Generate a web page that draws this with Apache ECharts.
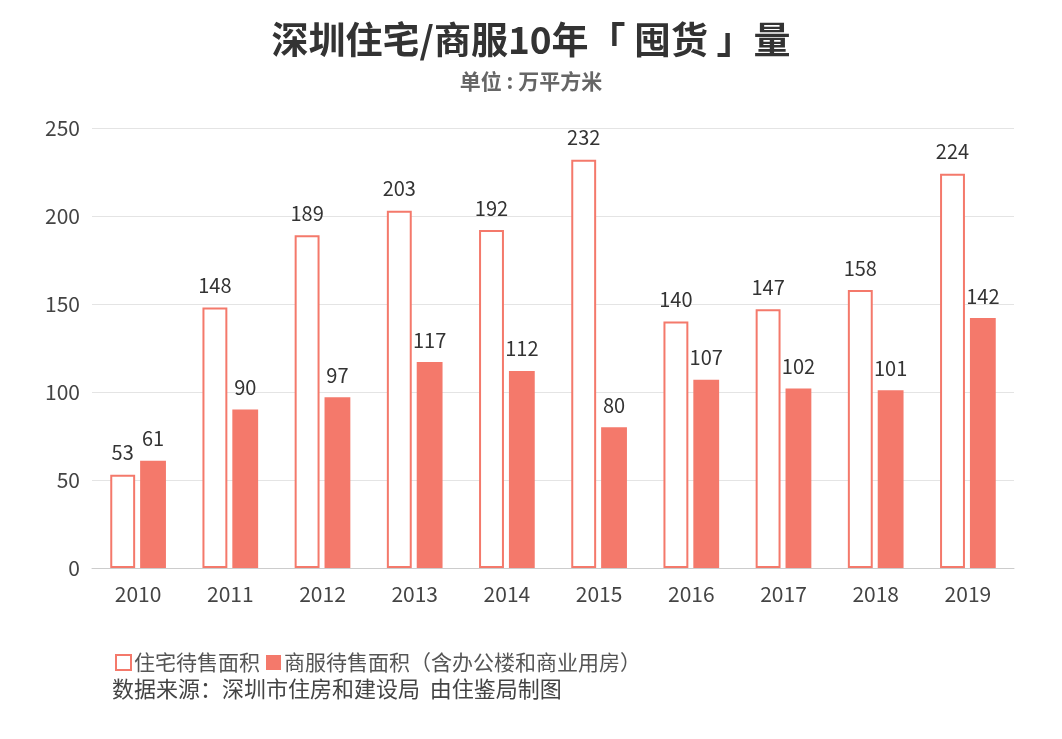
<!DOCTYPE html>
<html><head><meta charset="utf-8">
<script src="https://cdn.jsdelivr.net/npm/echarts@6/dist/echarts.min.js"></script>
<style>html,body{margin:0;padding:0;background:#fff}#c{width:1062px;height:739px}</style>
</head><body><div id="c"></div>
<script>
const years = ['2010','2011','2012','2013','2014','2015','2016','2017','2018','2019'];
const residential = [53,148,189,203,192,232,140,147,158,224];
const commercial = [61,90,97,117,112,80,107,102,101,142];
const seriesNames = ['住宅待售面积','商服待售面积（含办公楼和商业用房）'];
const yTicks = [0,50,100,150,200,250];
const red = '#F4796B';
const font = '"Noto Sans CJK SC", "Noto Sans", sans-serif';
const chart = echarts.init(document.getElementById('c'));
chart.setOption({
  backgroundColor:'#fff',
  animation:false,
  title:[
    {text:'深圳住宅/商服10年「 囤货 」量',left:'center',top:16,textStyle:{fontSize:37,fontWeight:'bold',color:'#333',fontFamily:font}},
    {text:'单位 : 万平方米',left:'center',top:66,textStyle:{fontSize:21,fontWeight:'bold',color:'#666',fontFamily:font}}
  ],
  legend:{
    left:110, top:647, itemGap:6, itemWidth:15, itemHeight:15,
    textStyle:{fontSize:21,color:'#555',fontFamily:font, padding:[0,0,0,-2]},
    data:[{name:seriesNames[0],icon:'rect',itemStyle:{color:'#fff',borderColor:red,borderWidth:2}},{name:seriesNames[1],icon:'rect'}]
  },
  graphic:[{type:'text',left:112,top:678,style:{text:'数据来源：深圳市住房和建设局  由住鉴局制图',font:'22px '+font,fill:'#444'}}],
  grid:{left:92,right:48,top:128,bottom:171},
  xAxis:{type:'category',data:years,axisTick:{show:false},axisLine:{lineStyle:{color:'#ccc'}},
    axisLabel:{fontSize:21,color:'#444',margin:16,fontFamily:font}},
  yAxis:{type:'value',min:0,max:250,interval:50,splitLine:{lineStyle:{color:'#e4e4e4'}},
    axisLabel:{fontSize:21,color:'#444',margin:12,fontFamily:font,formatter:v=>yTicks.includes(v)?String(v):''}},
  series:[
    {name:seriesNames[0],type:'bar',data:residential,barWidth:'27%',barGap:'20%',
     itemStyle:{color:'#fff',borderColor:red,borderWidth:2},
     label:{show:true,position:'top',distance:12,fontSize:20,color:'#333',fontFamily:font}},
    {name:seriesNames[1],type:'bar',data:commercial,barWidth:'28%',
     itemStyle:{color:red},
     label:{show:true,position:'top',distance:12,fontSize:20,color:'#333',fontFamily:font}}
  ]
});
</script></body></html>
